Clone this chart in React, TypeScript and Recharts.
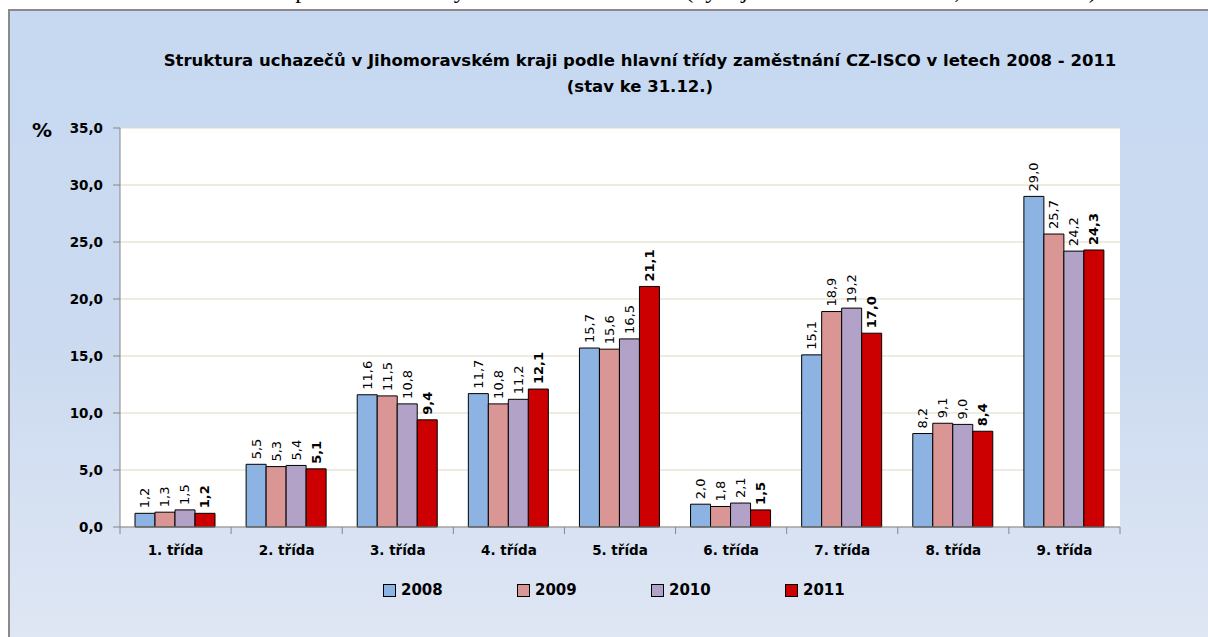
import { BarChart, Bar, XAxis, YAxis, CartesianGrid, LabelList, Legend } from "recharts";

const categories = ["1. třída", "2. třída", "3. třída", "4. třída", "5. třída", "6. třída", "7. třída", "8. třída", "9. třída"];
const years = ["2008", "2009", "2010", "2011"];
const s2008 = [1.2, 5.5, 11.6, 11.7, 15.7, 2.0, 15.1, 8.2, 29.0];
const s2009 = [1.3, 5.3, 11.5, 10.8, 15.6, 1.8, 18.9, 9.1, 25.7];
const s2010 = [1.5, 5.4, 10.8, 11.2, 16.5, 2.1, 19.2, 9.0, 24.2];
const s2011 = [1.2, 5.1, 9.4, 12.1, 21.1, 1.5, 17.0, 8.4, 24.3];
const yTicks = [0, 5, 10, 15, 20, 25, 30, 35];

const colors = ["#8db3e2", "#d99694", "#b3a2c7", "#cc0000"];
const FONT = "'DejaVu Sans', Verdana, sans-serif";

const data = categories.map((c, i) => ({
  name: c,
  y2008: s2008[i],
  y2009: s2009[i],
  y2010: s2010[i],
  y2011: s2011[i],
}));

const fmt = (v: number) => v.toFixed(1).replace(".", ",");

// category label plus tick marks on the band edges (Excel style)
function BottomTick(props: any) {
  const { x, y, payload, index } = props;
  const half = payload.offset || 0;
  const last = index === categories.length - 1;
  return (
    <g>
      <line x1={x - half} y1={y} x2={x - half} y2={y + 7} stroke="#868686" />
      {last && <line x1={x + half} y1={y} x2={x + half} y2={y + 7} stroke="#868686" />}
      <text x={x} y={y + 28} textAnchor="middle" fontFamily={FONT} fontWeight={700} fontSize={13.5} fill="#000">
        {payload.value}
      </text>
    </g>
  );
}

function makeLabel(bold: boolean) {
  return (props: any) => {
    const { x, y, width, value } = props;
    const cx = x + width / 2;
    const ty = y - 5;
    return (
      <text
        x={cx}
        y={ty}
        transform={`rotate(-90, ${cx}, ${ty})`}
        textAnchor="start"
        dominantBaseline="central"
        fontFamily={FONT}
        fontSize={13}
        fontWeight={bold ? 700 : 400}
        fill="#000"
      >
        {fmt(value)}
      </text>
    );
  };
}

function LegendContent() {
  return (
    <div style={{ display: "flex", fontFamily: FONT, fontWeight: 700, fontSize: 15 }}>
      {years.map((y, i) => (
        <div key={y} style={{ width: 134, display: "flex", alignItems: "center" }}>
          <span
            style={{
              width: 11,
              height: 11,
              background: colors[i],
              border: "1px solid #000",
              marginRight: 5,
              display: "inline-block",
            }}
          />
          <span>{y}</span>
        </div>
      ))}
    </div>
  );
}

export default function App() {
  const keys = ["y2008", "y2009", "y2010", "y2011"];
  return (
    <div style={{ position: "relative", width: 1208, height: 637, overflow: "hidden", background: "#fff" }}>
      <style>{`html, body { margin: 0; padding: 0; overflow: hidden; }`}</style>
      <div
        style={{
          position: "absolute",
          left: 30,
          top: -23,
          whiteSpace: "nowrap",
          fontFamily: "'Liberation Serif', serif",
          fontSize: 24,
          color: "#000",
        }}
      >
        Graf 4: Struktura uchazečů podle hlavní třídy zaměstnání CZ-ISCO (vývoj v letech 2008 – 2011, stav k 31.12.)
      </div>
      <div
        style={{
          position: "absolute",
          left: 8,
          top: 9,
          width: 1220,
          height: 650,
          borderLeft: "2px solid #8a8a8a",
          borderTop: "2px solid #8a8a8a",
          background: "linear-gradient(to bottom, #c6d9f1 0%, #cbdaf0 50%, #e0e7f4 100%)",
        }}
      />
      <div
        style={{
          position: "absolute",
          left: 0,
          top: 48,
          width: 1280,
          textAlign: "center",
          fontFamily: FONT,
          fontWeight: 700,
          fontSize: 16.5,
          lineHeight: "26px",
          color: "#000",
        }}
      >
        Struktura uchazečů v Jihomoravském kraji podle hlavní třídy zaměstnání CZ-ISCO v letech 2008 - 2011
        <br />
        (stav ke 31.12.)
      </div>
      <div style={{ position: "absolute", left: 32, top: 118, fontFamily: FONT, fontWeight: 700, fontSize: 20 }}>%</div>
      <div style={{ position: "absolute", left: 0, top: 0 }}>
        <BarChart
          width={1208}
          height={637}
          data={data}
          margin={{ top: 128, right: 88, bottom: 80, left: 0 }}
          barCategoryGap={15}
          barGap={0}
        >
          <CartesianGrid vertical={false} stroke="#ddd8c2" fill="#ffffff" />
          <XAxis
            dataKey="name"
            interval={0}
            tick={<BottomTick />}
            tickLine={false}
            tickSize={0}
            tickMargin={0}
            axisLine={{ stroke: "#868686" }}
            height={30}
          />
          <YAxis
            domain={[0, 35]}
            ticks={yTicks}
            interval={0}
            width={120}
            tickSize={7}
            tickMargin={10}
            tickFormatter={fmt}
            tickLine={{ stroke: "#868686" }}
            axisLine={{ stroke: "#868686" }}
            tick={{ fontFamily: FONT, fontWeight: 700, fontSize: 13.5, fill: "#000" }}
          />
          <Legend
            verticalAlign="middle"
            content={<LegendContent />}
            wrapperStyle={{ top: 581, left: 383, width: 600, height: 24 }}
          />
          {keys.map((k, i) => (
            <Bar key={k} dataKey={k} name={years[i]} fill={colors[i]} stroke="#000" strokeWidth={1} isAnimationActive={false}>
              <LabelList dataKey={k} content={makeLabel(i === 3)} />
            </Bar>
          ))}
        </BarChart>
      </div>
    </div>
  );
}
